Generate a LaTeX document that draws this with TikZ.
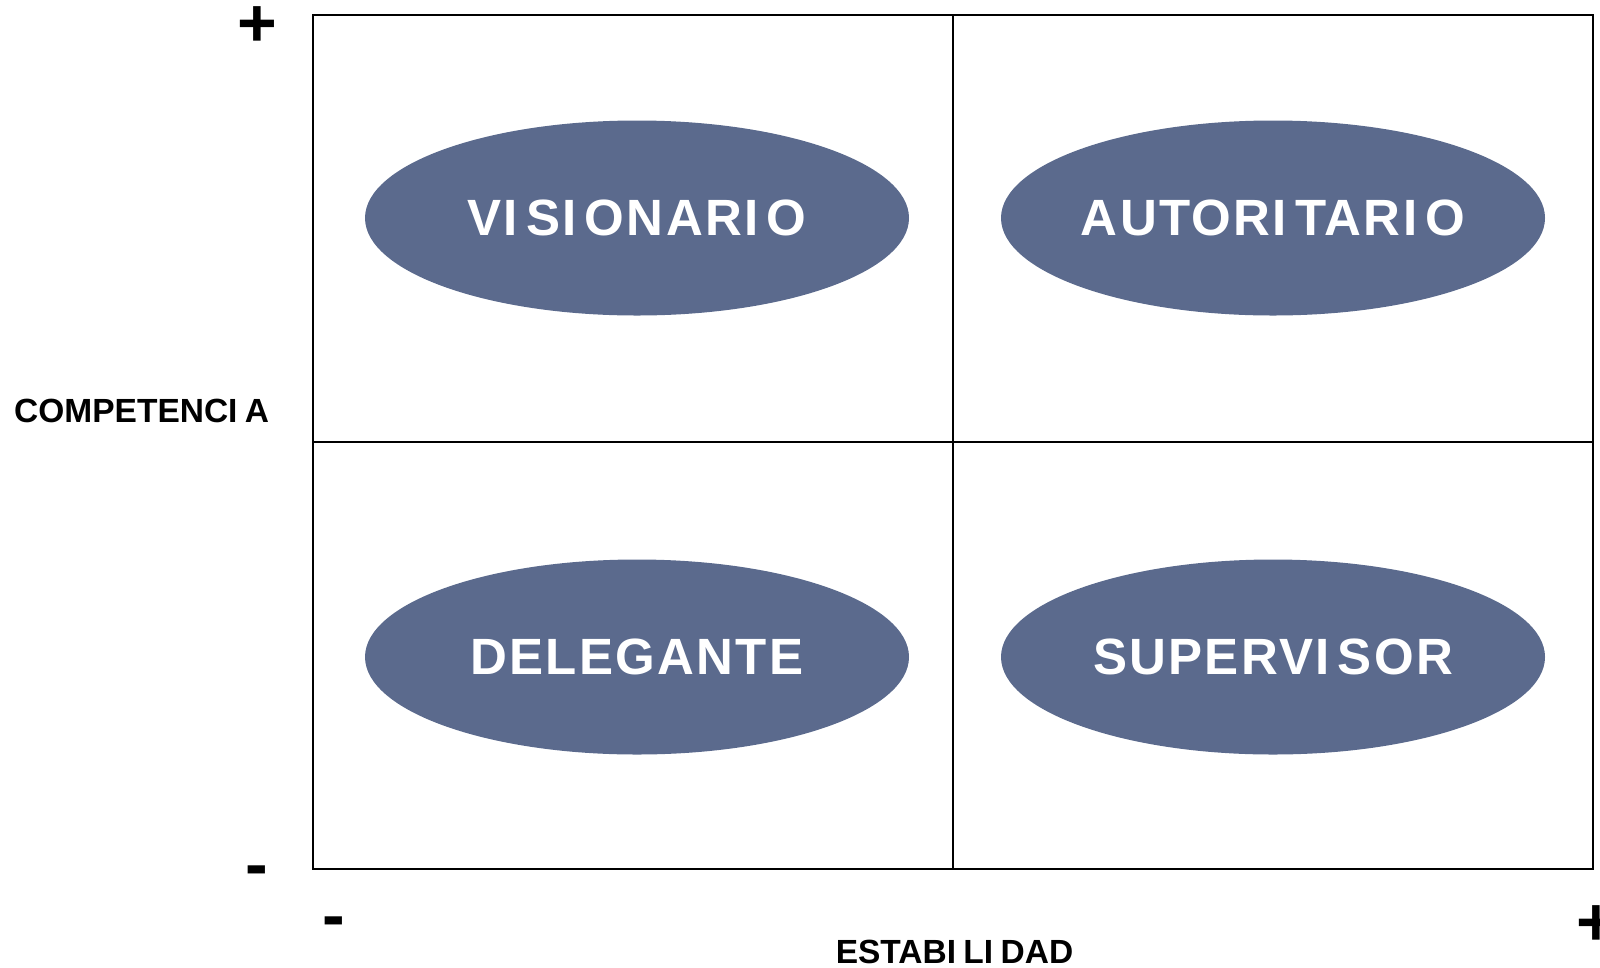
\documentclass[tikz,border=0pt]{standalone}
\usepackage{fontspec}
\setmainfont{Liberation Sans}
\newfontfamily\ellfont[LetterSpace=4.5]{Liberation Sans}
\usetikzlibrary{shapes.geometric}
\definecolor{ellblue}{RGB}{91,106,141}
\newcommand\wI{I\kern0.16em}
\newcommand\aI{I\kern0.22em}
\begin{document}
\begin{tikzpicture}[x=1pt,y=-1pt,
  quad/.style={ellipse, fill=ellblue, minimum width=544pt, minimum height=195pt, inner sep=0pt, text=white, font=\ellfont\bfseries\fontsize{51}{55}\selectfont},
  axislbl/.style={inner sep=0pt, anchor=base, font=\bfseries\fontsize{33.5}{36}\selectfont},
  sign/.style={inner sep=0pt, anchor=base, font=\bfseries\fontsize{68}{70}\selectfont},
  gridline/.style={line width=2pt, black}]
\useasboundingbox (0,0) rectangle (1600,967);
% grid
\coordinate (tl) at (313,15);
\coordinate (br) at (1593,869);
\coordinate (tm) at (953,15);
\coordinate (bm) at (953,869);
\coordinate (lm) at (313,442);
\coordinate (rm) at (1593,442);
\draw[gridline] (tl) rectangle (br);
\draw[gridline] (tm) -- (bm);
\draw[gridline] (lm) -- (rm);
% ellipses
\node[quad] (vis) at (637,218) {V\wI S\wI ONAR\wI O};
\node[quad] (aut) at (1273,218) {AUTOR\wI TAR\wI O};
\node[quad] (del) at (637,657) {DELEGANTE};
\node[quad] (sup) at (1273,657) {SUPERV\wI SOR};
% axis labels
\node[axislbl, anchor=base west] (comp) at (14,422) {COMPETENC\aI A};
\node[axislbl] (est) at (954.5,963) {ESTAB\aI L\aI DAD};
% signs
\node[sign] (yplus) at (257,46.5) {+};
\node[sign] (yminus) at (257,887.7) {-};
\node[sign] (xminus) at (334,938) {-};
\node[sign] (xplus) at (1596,945.5) {+};
\end{tikzpicture}
\end{document}
